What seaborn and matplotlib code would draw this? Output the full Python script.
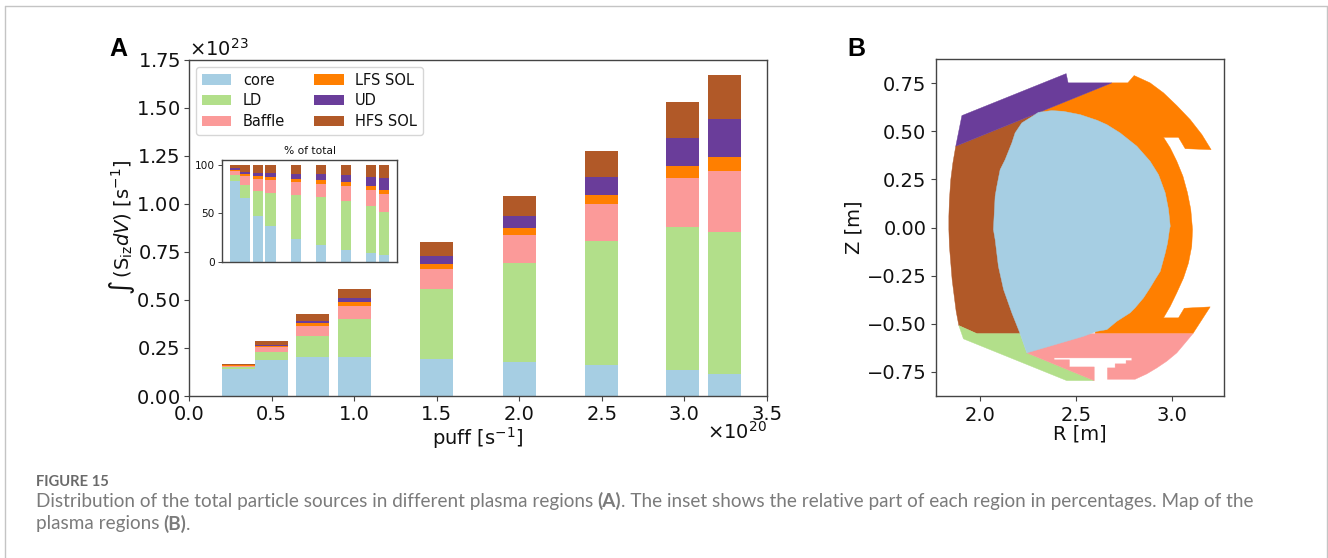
import numpy as np
import pandas as pd
import matplotlib
matplotlib.use("Agg")
import matplotlib.pyplot as plt
from matplotlib.ticker import ScalarFormatter
import seaborn as sns

# ---------- data ----------
puff = [0.3, 0.5, 0.75, 1.0, 1.5, 2.0, 2.5, 2.99, 3.245]  # x 1e20
core = [.139, .1875, .205, .205, .19, .179, .16, .135, .113]
ld = [.010, .0395, .1075, .193, .364, .514, .647, .743, .741]
baffle = [.008, .026, .0525, .072, .104, .145, .193, .257, .314]
lfs = [.002, .006, .013, .018, .031, .037, .047, .059, .075]
ud = [.002, .005, .014, .024, .040, .061, .093, .148, .195]
hfs = [.006, .022, .037, .047, .073, .103, .136, .188, .232]
names = ["core", "LD", "Baffle", "LFS SOL", "UD", "HFS SOL"]
colors = ["#a6cee3", "#b2df8a", "#fb9a99", "#ff7f00", "#6a3d9a", "#b15928"]

ud_R = [1.905, 2.448, 2.458, 2.686, 1.873]
ud_Z = [.582, .800, .752, .752, .423]

lfs_R = [2.686, 2.769, 2.802, 2.885, 2.955, 3.024, 3.094, 3.155, 3.203, 3.068, 3.033, 2.955, 2.990,
         3.024, 3.056, 3.080, 3.097, 3.106, 3.102, 3.085, 3.059, 3.024, 2.990, 2.955, 3.033, 3.063,
         3.198, 3.108, 2.600, 2.500, 2.330]
lfs_Z = [.752, .752, .790, .752, .700, .634, .561, .483, .405, .410, .469, .469, .414,
         .345, .267, .180, .094, -.010, -.097, -.184, -.262, -.339, -.409, -.469, -.469, -.419,
         -.412, -.551, -.551, 0.0, .608]

core_R = [2.278, 2.304, 2.373, 2.434, 2.521, 2.608, 2.660, 2.729, 2.816, 2.885, 2.929, 2.964, 2.981,
          2.990, 2.986, 2.976, 2.964, 2.938, 2.911, 2.885, 2.851, 2.807, 2.781, 2.712, 2.660, 2.608,
          2.538, 2.243, 2.208, 2.165, 2.122, 2.095, 2.078, 2.069, 2.078, 2.087, 2.104, 2.130, 2.165,
          2.182, 2.217]
core_Z = [.582, .599, .608, .604, .587, .558, .535, .492, .423, .345, .275, .180, .094,
          .007, -.010, -.080, -.132, -.227, -.270, -.313, -.365, -.417, -.443, -.487, -.530, -.539,
          -.565, -.651, -.551, -.443, -.322, -.201, -.062, -.010, .163, .215, .301, .353, .440,
          .492, .544]

hfs_R = [1.873, 1.858, 1.847, 1.840, 1.837, 1.837, 1.840, 1.847, 1.854, 1.865, 1.875, 1.889, 1.983,
         2.208, 2.400, 2.330]
hfs_Z = [.423, .336, .249, .145, .059, -.010, -.097, -.184, -.270, -.357, -.435, -.509, -.551,
         -.551, 0.0, .608]

ld_R = [1.889, 1.983, 2.208, 2.243, 2.594, 2.451, 1.913]
ld_Z = [-.509, -.551, -.551, -.651, -.795, -.795, -.578]

baffle_R = [2.243, 2.400, 3.108, 3.068, 3.024, 2.972, 2.920, 2.868, 2.807, 2.663, 2.663, 2.703, 2.703,
            2.760, 2.760, 2.790, 2.790, 2.385, 2.385, 2.465, 2.465, 2.594, 2.594]
baffle_Z = [-.651, -.551, -.551, -.599, -.651, -.694, -.729, -.760, -.788, -.788, -.729, -.729, -.708,
            -.708, -.691, -.691, -.677, -.677, -.687, -.687, -.724, -.724, -.795]

caption_head = "FIGURE 15"
caption_1a = "Distribution of the total particle sources in different plasma regions"
caption_1b = ". The inset shows the relative part of each region in percentages. Map of the"
caption_2 = "plasma regions"

# ---------- layout ----------
W, H = 1328, 558
sns.set_style("white")
plt.rcParams["font.family"] = ["DejaVu Sans"]
plt.rcParams["mathtext.fontset"] = "dejavusans"
for key in ["text.color", "axes.labelcolor", "xtick.color", "ytick.color"]:
    plt.rcParams[key] = "#111111"
fig = plt.figure(figsize=(W / 100, H / 100), dpi=100, facecolor="white")


def box(l, t, r, b):
    return [l / W, 1 - b / H, (r - l) / W, (b - t) / H]


SPINE = "#444444"


def style(ax, lw=1.0):
    for s in ax.spines.values():
        s.set_visible(True)
        s.set_color(SPINE)
        s.set_linewidth(lw)


series = [core, ld, baffle, lfs, ud, hfs]
df = pd.DataFrame({"puff": puff, **dict(zip(names, series))})


def stacked(ax, frame, labels=True):
    bottom = np.zeros(len(frame))
    for name, col in zip(names, colors):
        sns.barplot(data=frame, x="puff", y=name, bottom=bottom, color=col, saturation=1,
                    width=1.0, native_scale=True, errorbar=None, linewidth=0, ax=ax,
                    label=name if labels else None)
        bottom = bottom + frame[name].to_numpy()


# panel A
ax = fig.add_axes(box(189, 59.5, 767, 396))
style(ax)
stacked(ax, df.assign(**{n: df[n] * 1e23 for n in names}))
ax.set_xlim(0, 3.5)
ax.set_ylim(0, 1.75e23)
ax.set_xticks(np.arange(0, 3.51, 0.5))
ax.set_xticklabels([f"{v:.1f}" for v in np.arange(0, 3.51, 0.5)])
ax.set_yticks(np.arange(0, 1.76, 0.25) * 1e23)
fmt = ScalarFormatter(useMathText=True)
fmt.set_powerlimits((0, 0))
ax.yaxis.set_major_formatter(fmt)
ax.yaxis.get_offset_text().set_fontsize(14)
ax.tick_params(axis="both", labelsize=14, length=3.5, width=0.8, color=SPINE, left=True, bottom=True, pad=3)
ax.set_xlabel("puff [s$^{-1}$]", fontsize=14, labelpad=0.5)
ax.set_ylabel(r"$\int\,(\mathrm{S_{iz}}dV)$ [s$^{-1}$]", fontsize=14, labelpad=-1)
ax.legend(ncol=2, loc="upper left", fontsize=10.5, frameon=True, borderaxespad=0.5, columnspacing=2.0,
          labelspacing=0.38)
fig.text(767 / W, 1 - 432 / H, r"$\times10^{20}$", fontsize=14, ha="right", va="center")

# inset
ins = fig.add_axes(box(222, 160, 397, 262))
style(ins)
totals = df[names].sum(axis=1)
pct = df.assign(**{n: df[n] / totals * 100 for n in names})
stacked(ins, pct, labels=False)
ins.set_xlim(0.043, 3.5)
ins.set_ylim(0, 105)
ins.set_xticks([])
ins.set_yticks([0, 50, 100])
ins.set_xlabel("")
ins.set_ylabel("")
ins.tick_params(axis="y", labelsize=7.6, length=3, width=0.7, color=SPINE, left=True, pad=2)
ins.set_title("% of total", fontsize=7.7, pad=4)

# panel B
bx = fig.add_axes(box(936, 59, 1224, 396))
style(bx)
for R, Z, col in [(hfs_R, hfs_Z, colors[5]), (lfs_R, lfs_Z, colors[3]), (ud_R, ud_Z, colors[4]),
                  (ld_R, ld_Z, colors[1]), (baffle_R, baffle_Z, colors[2]), (core_R, core_Z, colors[0])]:
    bx.fill(R, Z, color=col, linewidth=0.3)
bx.set_xlim(1.77, 3.27)
bx.set_ylim(-0.875, 0.876)
bx.set_xticks([2.0, 2.5, 3.0])
bx.set_yticks(np.arange(-0.75, 0.76, 0.25))
bx.tick_params(axis="both", labelsize=14, length=3.5, width=0.8, color=SPINE, left=True, bottom=True)
bx.set_xlabel("R [m]", fontsize=14, labelpad=0)
bx.set_ylabel("Z [m]", fontsize=14, labelpad=2)

# panel letters
fig.text(109 / W, 1 - 49.5 / H, "A", fontsize=18, fontweight="bold", va="center", family="Liberation Sans", color="black")
fig.text(847 / W, 1 - 49 / H, "B", fontsize=18, fontweight="bold", va="center", family="Liberation Sans", color="black")

# caption
CAP = "#7b7b7b"
fig.text(36 / W, 1 - 482 / H, caption_head, fontsize=10.6, fontweight="bold", color="#6a6a6a", va="center", family="Lato")
r = fig.canvas.get_renderer()


def run(x, y, s, **kw):
    t = fig.text(x / W, 1 - y / H, s, fontsize=13.62, color=CAP, va="center", family="Lato", **kw)
    return t.get_window_extent(r).x1


x = run(36, 501, caption_1a)
x = run(x + 4, 501, "(A)", fontweight="bold")
run(x, 501, caption_1b)
x = run(36, 524, caption_2)
x = run(x + 4, 524, "(B)", fontweight="bold")
run(x, 524, ".")

# page frame
for xs, ys in [((4.5, 4.5), (558, 6)), ((4.5, 1327), (6, 6)), ((1327, 1327), (6, 558))]:
    fig.add_artist(plt.Line2D([v / W for v in xs], [1 - v / H for v in ys], color="#c4c4c4", lw=1))

fig.savefig("out.png", dpi=100)
